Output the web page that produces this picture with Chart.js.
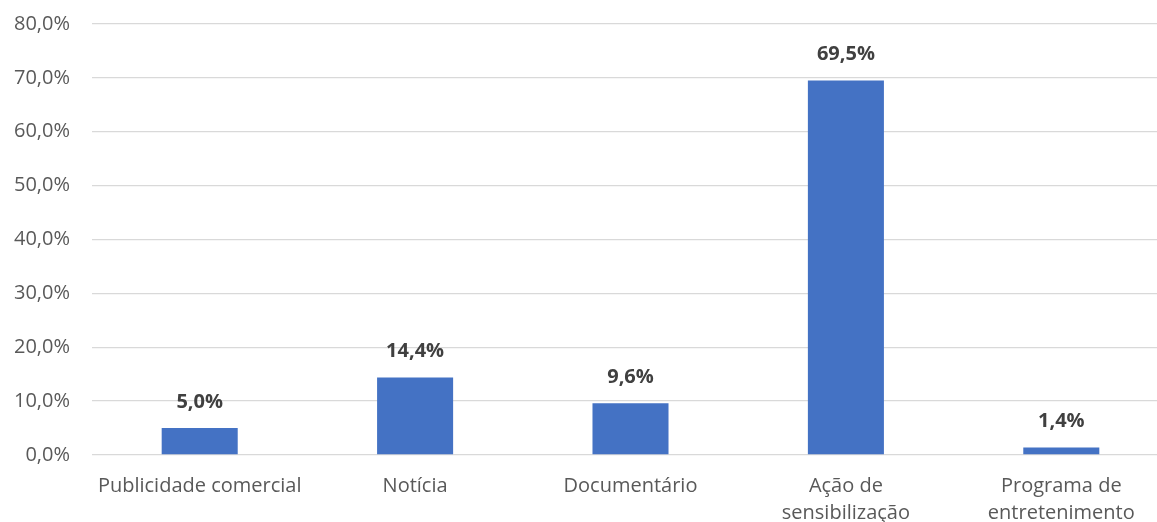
<!DOCTYPE html>
<html>
<head>
<meta charset="utf-8">
<script src="https://cdn.jsdelivr.net/npm/chart.js@4"></script>
<style>
    html, body { margin: 0; padding: 0; background: #fff; overflow: hidden; }
    #wrap { position: relative; width: 1169px; height: 522px; }
</style>
</head>
<body>
<div id="wrap"><canvas id="chart"></canvas></div>
<script>
// Data
const categories = [
    'Publicidade comercial',
    'Notícia',
    'Documentário',
    ['Ação de', 'sensibilização'],
    ['Programa de', 'entretenimento']
];
const percentages = [5.0, 14.4, 9.6, 69.5, 1.4];
const yTicks = [0, 10, 20, 30, 40, 50, 60, 70, 80];

const FONT = '"Open Sans", sans-serif';

function fmtPct(v) {
    return v.toFixed(1).replace('.', ',') + '%';
}

// Value labels above each bar
const barLabels = {
    id: 'barLabels',
    afterDatasetsDraw(chart) {
        const ctx = chart.ctx;
        const meta = chart.getDatasetMeta(0);
        ctx.save();
        ctx.font = 'bold 20px ' + FONT;
        ctx.fillStyle = '#404040';
        ctx.textAlign = 'center';
        ctx.textBaseline = 'middle';
        meta.data.forEach((bar, i) => {
            ctx.fillText(fmtPct(percentages[i]), bar.x, bar.y - 26);
        });
        ctx.restore();
    }
};

new Chart(document.getElementById('chart'), {
    type: 'bar',
    data: {
        labels: categories,
        datasets: [{
            data: percentages,
            backgroundColor: '#4472C4',
            barPercentage: 0.353,
            categoryPercentage: 1
        }]
    },
    options: {
        responsive: true,
        maintainAspectRatio: false,
        animation: false,
        layout: { padding: { top: 24, left: 0, right: 0, bottom: 0 } },
        plugins: {
            legend: { display: false },
            tooltip: { enabled: false }
        },
        scales: {
            x: {
                grid: { display: false, drawTicks: false },
                border: { display: false },
                ticks: {
                    color: '#595959',
                    font: { family: FONT, size: 20, lineHeight: 1.35 },
                    padding: 18,
                    maxRotation: 0,
                    autoSkip: false
                },
                afterFit(scale) { scale.height = 67; }
            },
            y: {
                min: 0,
                max: 80,
                afterBuildTicks(scale) { scale.ticks = yTicks.map(v => ({ value: v })); },
                grid: { color: '#d9d9d9', lineWidth: 1.3, drawTicks: false },
                border: { display: false },
                ticks: {
                    color: '#595959',
                    font: { family: FONT, size: 20 },
                    padding: 22,
                    callback: v => fmtPct(v)
                },
                afterFit(scale) {
                    scale.width = 92;
                    scale.paddingTop = 0;
                    scale.paddingBottom = 0;
                }
            }
        }
    },
    plugins: [barLabels]
});
</script>
</body>
</html>
